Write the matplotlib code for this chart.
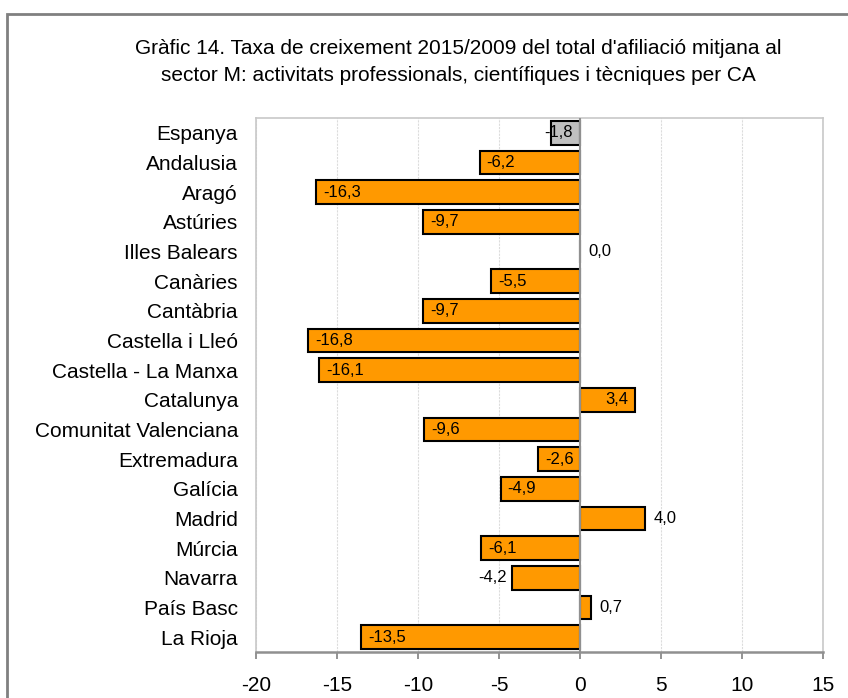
import numpy as np
import matplotlib
matplotlib.use('Agg')
import matplotlib.pyplot as plt
from matplotlib.patches import Rectangle

plt.rcParams['font.family'] = ['Liberation Sans', 'DejaVu Sans']

# growth rate 2015/2009, sector M, by region
regions = ['Espanya', 'Andalusia', 'Aragó', 'Astúries', 'Illes Balears', 'Canàries',
           'Cantàbria', 'Castella i Lleó', 'Castella - La Manxa', 'Catalunya',
           'Comunitat Valenciana', 'Extremadura', 'Galícia', 'Madrid', 'Múrcia',
           'Navarra', 'País Basc', 'La Rioja']
rates = [-1.8, -6.2, -16.3, -9.7, 0.0, -5.5, -9.7, -16.8, -16.1, 3.4,
         -9.6, -2.6, -4.9, 4.0, -6.1, -4.2, 0.7, -13.5]
xticks = [-20, -15, -10, -5, 0, 5, 10, 15]

# labels drawn past the end of the bar instead of inside it
outside = {'Illes Balears', 'Madrid', 'Navarra', 'País Basc'}

fig = plt.figure(figsize=(8.48, 6.98), dpi=100)
fig.patches.append(Rectangle((7/848, -0.1), 1.2, 1.1 - 14/698, transform=fig.transFigure,
                             fill=False, edgecolor='#808080', linewidth=2))

ax = fig.add_axes([256/848, 1 - 652/698, (823 - 256)/848, (652 - 118)/698])

y = np.arange(len(regions))
colors = ['#c0c0c0' if r == 'Espanya' else '#ff9900' for r in regions]
ax.barh(y, rates, height=0.8, color=colors, edgecolor='black', linewidth=1.5, zorder=3)

ax.set_xlim(-20, 15)
ax.set_ylim(len(regions) - 0.5, -0.5)
ax.set_xticks(xticks)
ax.set_xticklabels([str(t) for t in xticks], fontsize=15)
ax.set_yticks(y)
ax.set_yticklabels(regions, fontsize=15)
ax.tick_params(axis='y', length=0, pad=13)
ax.tick_params(axis='x', length=5, color='#808080', width=1.2, pad=12)
ax.grid(axis='x', color='#dcdcdc', linewidth=0.8, linestyle=(0, (2, 1)), zorder=0)
ax.axvline(0, color='#909090', linewidth=1.5, zorder=4)

for side in ['top', 'right', 'left']:
    ax.spines[side].set_color('#c8c8c8')
    ax.spines[side].set_linewidth(1.2)
ax.spines['bottom'].set_color('#909090')
ax.spines['bottom'].set_linewidth(1.8)

for yi, (name, v) in enumerate(zip(regions, rates)):
    txt = f'{v:.1f}'.replace('.', ',')
    if name in outside:
        if v < 0:
            ax.annotate(txt, (v, yi), xytext=(-4, 0), textcoords='offset points',
                        ha='right', va='center', fontsize=12, zorder=5)
        else:
            ax.annotate(txt, (v, yi), xytext=(6, 0), textcoords='offset points',
                        ha='left', va='center', fontsize=12, zorder=5)
    elif v < 0:
        if abs(v) < 2.5:
            ax.annotate(txt, (0, yi), xytext=(-5, 0), textcoords='offset points',
                        ha='right', va='center', fontsize=12, zorder=5)
        else:
            ax.annotate(txt, (v, yi), xytext=(5, 0), textcoords='offset points',
                        ha='left', va='center', fontsize=12, zorder=5)
    else:
        ax.annotate(txt, (v, yi), xytext=(-5, 0), textcoords='offset points',
                    ha='right', va='center', fontsize=12, zorder=5)

fig.text(458/848, 1 - 54/698,
         "Gràfic 14. Taxa de creixement 2015/2009 del total d'afiliació mitjana al",
         ha='center', va='baseline', fontsize=15)
fig.text(458/848, 1 - 81/698,
         "sector M: activitats professionals, científiques i tècniques per CA",
         ha='center', va='baseline', fontsize=15)

fig.savefig('out.png', dpi=100)
